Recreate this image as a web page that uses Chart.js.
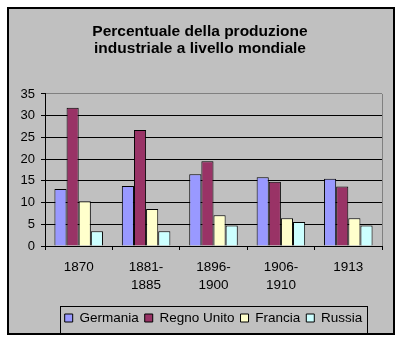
<!DOCTYPE html>
<html>
<head>
<meta charset="utf-8">
<script src="https://cdn.jsdelivr.net/npm/chart.js@4/dist/chart.umd.min.js"></script>
<style>
  html, body { margin: 0; padding: 0; background: #fff; }
  #wrap { width: 400px; height: 341px; }
</style>
</head>
<body>
<div id="wrap"><canvas id="produzione" width="400" height="341"></canvas></div>
<script>
var periodi = [['1870'], ['1881-', '1885'], ['1896-', '1900'], ['1906-', '1910'], ['1913']];
var germania = [13.1, 13.8, 16.5, 15.8, 15.5];
var regnoUnito = [31.8, 26.7, 19.5, 14.8, 13.7];
var francia = [10.3, 8.5, 7.1, 6.4, 6.4];
var russia = [3.4, 3.4, 4.7, 5.5, 4.7];
var valoriAsse = [0, 5, 10, 15, 20, 25, 30, 35];

Chart.defaults.font.family = "'Liberation Sans', Arial, sans-serif";
Chart.defaults.color = '#000';

// grey frame behind the whole chart
var sfondo = {
    id: 'sfondo',
    beforeDraw: function(chart) {
        var c = chart.ctx;
        c.save();
        c.fillStyle = '#c0c0c0';
        c.fillRect(7, 7, 388, 328);
        c.strokeStyle = '#000';
        c.lineWidth = 2;
        c.strokeRect(8, 8, 386, 326);
        c.restore();
    },
    beforeDatasetsDraw: function(chart) {
        // right edge of the plot area
        var a = chart.chartArea, c = chart.ctx;
        c.save();
        c.strokeStyle = '#808080';
        c.lineWidth = 1;
        c.beginPath();
        c.moveTo(Math.round(a.right) + 0.5, a.top);
        c.lineTo(Math.round(a.right) + 0.5, a.bottom);
        c.stroke();
        c.restore();
    },
    afterDraw: function(chart) {
        // box around the legend
        var lg = chart.legend, hb = lg.legendHitBoxes;
        if (!hb || !hb.length) return;
        var last = hb[hb.length - 1];
        var x1 = Math.round(hb[0].left - 5) + 0.5;
        var x2 = Math.round(last.left + last.width + 5) + 0.5;
        var y1 = Math.round(lg.top + 1) + 0.5;
        var y2 = Math.round(lg.bottom - 1) + 0.5;
        var c = chart.ctx;
        c.save();
        c.strokeStyle = '#000';
        c.lineWidth = 1;
        c.strokeRect(x1, y1, x2 - x1, y2 - y1);
        c.restore();
    }
};

var ctx = document.getElementById('produzione').getContext('2d');
var grafico = new Chart(ctx, {
    type: 'bar',
    data: {
        labels: periodi,
        datasets: [{
            label: 'Germania',
            data: germania,
            backgroundColor: '#9999ff',
            borderColor: '#000',
            borderWidth: 1
        }, {
            label: 'Regno Unito',
            data: regnoUnito,
            backgroundColor: '#993366',
            borderColor: '#000',
            borderWidth: 1
        }, {
            label: 'Francia',
            data: francia,
            backgroundColor: '#ffffcc',
            borderColor: '#000',
            borderWidth: 1
        }, {
            label: 'Russia',
            data: russia,
            backgroundColor: '#ccffff',
            borderColor: '#000',
            borderWidth: 1
        }]
    },
    options: {
        responsive: false,
        animation: false,
        datasets: {
            bar: { categoryPercentage: 0.72, barPercentage: 1 }
        },
        layout: {
            padding: { left: 18, right: 18, top: 0, bottom: 6.25 }
        },
        scales: {
            x: {
                offset: true,
                grid: {
                    offset: true,
                    drawOnChartArea: false,
                    tickLength: 4,
                    color: '#000'
                },
                border: { color: '#000', width: 1 },
                ticks: {
                    font: { size: 13.5, lineHeight: 1.3 },
                    padding: 9,
                    maxRotation: 0,
                    autoSkip: false
                },
                afterFit: function(scale) { scale.height = 59.25; }
            },
            y: {
                min: 0,
                max: 35,
                afterBuildTicks: function(scale) {
                    scale.ticks = valoriAsse.map(function(v) { return { value: v }; });
                },
                grid: {
                    color: function(c) { return c.tick && c.tick.value === 35 ? '#808080' : '#000'; },
                    tickColor: '#000',
                    tickLength: 4
                },
                border: { color: '#000', width: 1 },
                ticks: {
                    font: { size: 13 },
                    padding: 6
                },
                afterFit: function(scale) { scale.width = 27; }
            }
        },
        plugins: {
            title: {
                display: true,
                text: ['Percentuale della produzione', 'industriale a livello mondiale'],
                font: { size: 15.5, weight: 'bold', lineHeight: 1.07 },
                color: '#000',
                padding: { top: 23.4, bottom: 37.4 }
            },
            legend: {
                position: 'bottom',
                fullSize: false,
                labels: {
                    boxWidth: 8,
                    boxHeight: 8,
                    padding: 6,
                    font: { size: 13.5 }
                }
            },
            tooltip: { enabled: false }
        }
    },
    plugins: [sfondo]
});
</script>
</body>
</html>
